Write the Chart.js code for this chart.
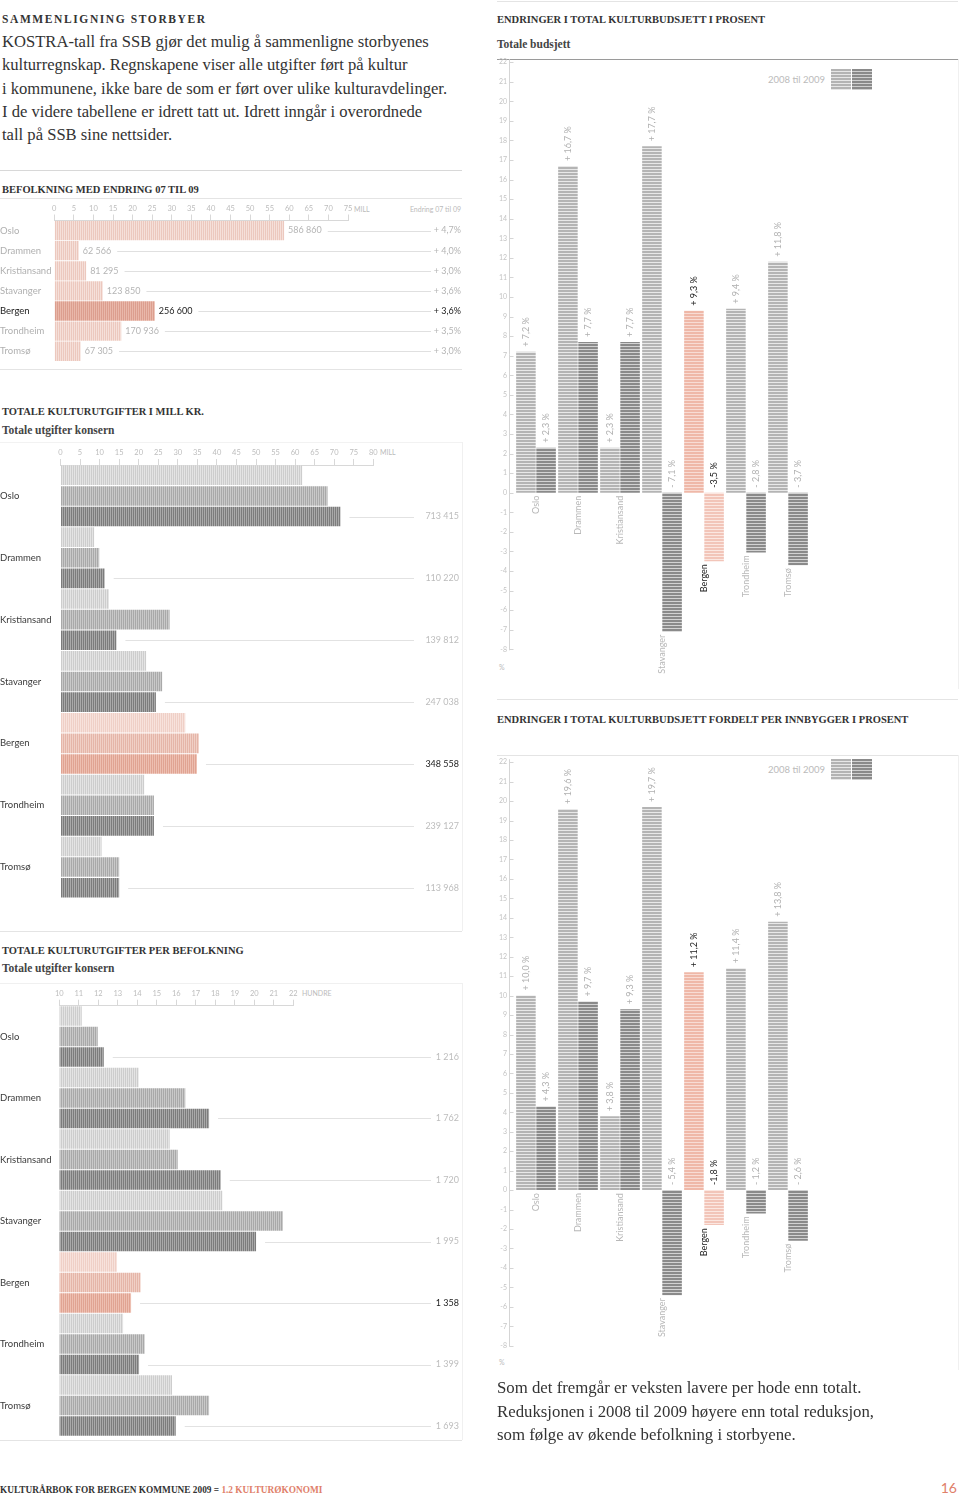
<!DOCTYPE html>
<html lang="no">
<head>
<meta charset="utf-8">
<title>Sammenligning storbyer</title>
<script src="https://cdn.jsdelivr.net/npm/chart.js@4.4.1/dist/chart.umd.min.js"></script>
<style>
body{margin:0;width:960px;height:1499px;position:relative;background:#fff;overflow:hidden;font-family:Lato,sans-serif}
.a{position:absolute;white-space:nowrap}
.h{font-family:"Liberation Serif",serif;font-weight:bold;font-size:10.5px;line-height:12px;color:#333}
.sub{font-family:"Liberation Serif",serif;font-weight:bold;font-size:11.5px;line-height:14px;color:#444}
.body{font-family:"Liberation Serif",serif;font-size:16.6px;line-height:23.3px;color:#333}
.tiny{font-size:7px;line-height:10px;color:#bbb}
.rule{position:absolute;height:1px;background:#e4e4e4}
.vrule{position:absolute;width:1px;background:#f0f0f0}
.sw{position:absolute;width:20px;height:21px}
canvas{position:absolute}
</style>
</head>
<body>

<div class="a h" style="left:2px;top:13px;font-size:11.5px;letter-spacing:1.6px">SAMMENLIGNING STORBYER</div>
<div class="a body" style="left:2px;top:30px">KOSTRA-tall fra SSB gjør det mulig å sammenligne storbyenes<br>kulturregnskap. Regnskapene viser alle utgifter ført på kultur<br>i kommunene, ikke bare de som er ført over ulike kulturavdelinger.<br>I de videre tabellene er idrett tatt ut. Idrett inngår i overordnede<br>tall på SSB sine nettsider.</div>
<div class="rule" style="left:0;top:170px;width:462px;background:#d8d8d8"></div>

<div class="a h" style="left:2px;top:184px">BEFOLKNING MED ENDRING 07 TIL 09</div>
<div class="rule" style="left:0;top:198px;width:462px"></div>
<div class="a tiny" style="left:354px;top:204px">MILL</div>
<div class="a tiny" style="right:499px;top:204px">Endring 07 til 09</div>
<canvas id="c1" width="470" height="170" style="left:0;top:200px"></canvas>
<div class="rule" style="left:0;top:369px;width:462px"></div>

<div class="a h" style="left:2px;top:406px">TOTALE KULTURUTGIFTER I MILL KR.</div>
<div class="a sub" style="left:2px;top:423px">Totale utgifter konsern</div>
<div class="rule" style="left:0;top:442px;width:462px;background:#f2f2f2"></div>
<div class="vrule" style="left:462px;top:442px;height:489px"></div>
<div class="a tiny" style="left:380px;top:447px">MILL</div>
<canvas id="c2" width="470" height="500" style="left:0;top:440px"></canvas>
<div class="rule" style="left:0;top:931px;width:462px"></div>

<div class="a h" style="left:2px;top:945px">TOTALE KULTURUTGIFTER PER BEFOLKNING</div>
<div class="a sub" style="left:2px;top:961px">Totale utgifter konsern</div>
<div class="rule" style="left:0;top:983px;width:462px;background:#f0f0f0"></div>
<div class="vrule" style="left:462px;top:983px;height:457px"></div>
<div class="a tiny" style="left:302px;top:988px">HUNDRE</div>
<canvas id="c3" width="470" height="465" style="left:0;top:980px"></canvas>
<div class="rule" style="left:0;top:1440px;width:462px"></div>

<div class="rule" style="left:497px;top:1px;width:461px"></div>
<div class="a h" style="left:497px;top:14px">ENDRINGER I TOTAL KULTURBUDSJETT I PROSENT</div>
<div class="a sub" style="left:497px;top:37px">Totale budsjett</div>
<div class="rule" style="left:497px;top:59px;width:461px;background:#9a9a9a"></div>
<div class="vrule" style="left:958px;top:59px;height:630px"></div>
<div class="a" style="left:768px;top:74px;font-size:9.5px;color:#bbb">2008 til 2009</div>
<div class="sw" style="left:831px;top:69px;background:repeating-linear-gradient(#b3b3b3 0 2px,#e6e6e6 2px 3px)"></div>
<div class="sw" style="left:852px;top:69px;background:repeating-linear-gradient(#8a8a8a 0 2px,#cfcfcf 2px 3px)"></div>
<div class="a tiny" style="left:499px;top:662px">%</div>
<canvas id="r1" width="470" height="640" style="left:490px;top:50px"></canvas>

<div class="rule" style="left:497px;top:699px;width:461px"></div>
<div class="a h" style="left:497px;top:714px">ENDRINGER I TOTAL KULTURBUDSJETT FORDELT PER INNBYGGER I PROSENT</div>
<div class="rule" style="left:497px;top:755px;width:461px"></div>
<div class="vrule" style="left:958px;top:755px;height:615px"></div>
<div class="a" style="left:768px;top:764px;font-size:9.5px;color:#bbb">2008 til 2009</div>
<div class="sw" style="left:831px;top:759px;background:repeating-linear-gradient(#b3b3b3 0 2px,#e6e6e6 2px 3px)"></div>
<div class="sw" style="left:852px;top:759px;background:repeating-linear-gradient(#8a8a8a 0 2px,#cfcfcf 2px 3px)"></div>
<div class="a tiny" style="left:499px;top:1357px">%</div>
<canvas id="r2" width="470" height="640" style="left:490px;top:750px"></canvas>

<div class="a body" style="left:497px;top:1376px;line-height:23.5px;font-size:16.8px">Som det fremgår er veksten lavere per hode enn totalt.<br>Reduksjonen i 2008 til 2009 høyere enn total reduksjon,<br>som følge av økende befolkning i storbyene.</div>

<div class="a h" style="left:0;top:1484px;font-size:9.3px">KULTURÅRBOK FOR BERGEN KOMMUNE 2009 = <span style="color:#e0806a">1.2 KULTURØKONOMI</span></div>
<div class="a" style="right:3px;top:1479px;font-size:14px;color:#e0806a">16</div>

<script>
// byer og verdier lest av figuren
const byer = ['Oslo', 'Drammen', 'Kristiansand', 'Stavanger', 'Bergen', 'Trondheim', 'Tromsø'];

const befolkning = [586860, 62566, 81295, 123850, 256600, 170936, 67305];
const befEndring = [4.7, 4.0, 3.0, 3.6, 3.6, 3.5, 3.0];

// totale kulturutgifter, i 10 mill kr
const utgift2007 = [61.8, 8.6, 12.4, 21.9, 31.9, 21.4, 10.5];
const utgift2008 = [68.3, 9.9, 27.9, 26.0, 35.4, 23.9, 15.0];
const utgift2009 = [71.6, 11.3, 14.3, 24.4, 34.9, 23.9, 15.0];
const utgiftTekst = [713415, 110220, 139812, 247038, 348558, 239127, 113968];

// utgifter per innbygger, i hundre kr
const perInnb2007 = [11.15, 14.07, 15.66, 18.36, 12.96, 13.27, 15.78];
const perInnb2008 = [11.97, 16.46, 16.07, 21.47, 14.17, 14.38, 17.68];
const perInnb2009 = [12.28, 17.68, 18.28, 20.09, 13.68, 14.09, 15.97];
const perInnbTekst = [1216, 1762, 1720, 1995, 1358, 1399, 1693];

// endringer i prosent
const endr0708 = [7.2, 16.7, 2.3, 17.7, 9.3, 9.4, 11.8];
const endr0809 = [2.3, 7.7, 7.7, -7.1, -3.5, -3.05, -3.7];
const endr0708Tekst = ['+ 7,2 %', '+ 16,7 %', '+ 2,3 %', '+ 17,7 %', '+ 9,3 %', '+ 9,4 %', '+ 11,8 %'];
const endr0809Tekst = ['+ 2,3 %', '+ 7,7 %', '+ 7,7 %', '- 7,1 %', '-3,5 %', '- 2,8 %', '- 3,7 %'];

const innb0708 = [10.0, 19.6, 3.8, 19.7, 11.2, 11.4, 13.8];
const innb0809 = [4.3, 9.7, 9.3, -5.4, -1.8, -1.2, -2.6];
const innb0708Tekst = ['+ 10,0 %', '+ 19,6 %', '+ 3,8 %', '+ 19,7 %', '+ 11,2 %', '+ 11,4 %', '+ 13,8 %'];
const innb0809Tekst = ['+ 4,3 %', '+ 9,7 %', '+ 9,3 %', '- 5,4 %', '-1,8 %', '- 1,2 %', '- 2,6 %'];

const BERGEN = 4;

Chart.defaults.font.family = 'Lato, sans-serif';
Chart.defaults.animation = false;
Chart.defaults.plugins.legend.display = false;
Chart.defaults.plugins.tooltip.enabled = false;

function hatch(base, line, vertical) {
    var c = document.createElement('canvas');
    var g = c.getContext('2d');
    if (vertical) {
        c.width = 2; c.height = 1;
        g.fillStyle = base; g.fillRect(0, 0, 1, 1);
        g.fillStyle = line; g.fillRect(1, 0, 1, 1);
    } else {
        c.width = 1; c.height = 3;
        g.fillStyle = base; g.fillRect(0, 0, 1, 2);
        g.fillStyle = line; g.fillRect(0, 2, 1, 1);
    }
    return g.createPattern(c, 'repeat');
}

function tall(n) {
    return String(n).replace(/\B(?=(\d{3})+(?!\d))/g, ' ');
}

function perBy(normal, bergen) {
    return byer.map(function(b, i) { return i === BERGEN ? bergen : normal; });
}

// ---- befolkning ----
var befPlugin = {
    id: 'befLabels',
    afterDatasetsDraw: function(chart) {
        var ctx = chart.ctx;
        var meta = chart.getDatasetMeta(0);
        ctx.save();
        ctx.font = '9px Lato';
        ctx.textBaseline = 'middle';
        meta.data.forEach(function(bar, i) {
            var col = i === BERGEN ? '#222' : '#b5b5b5';
            var txt = tall(befolkning[i]);
            ctx.fillStyle = col;
            ctx.textAlign = 'left';
            ctx.fillText(txt, bar.x + 4, bar.y);
            var w = ctx.measureText(txt).width;
            ctx.strokeStyle = '#e0e0e0';
            ctx.lineWidth = 1;
            ctx.beginPath();
            ctx.moveTo(bar.x + 10 + w, Math.round(bar.y) + 0.5);
            ctx.lineTo(431, Math.round(bar.y) + 0.5);
            ctx.stroke();
            ctx.textAlign = 'right';
            ctx.fillText('+ ' + befEndring[i].toFixed(1).replace('.', ',') + '%', 461, bar.y);
        });
        ctx.restore();
    }
};

new Chart(document.getElementById('c1'), {
    type: 'bar',
    data: {
        labels: byer,
        datasets: [{
            data: befolkning.map(function(v) { return v / 10000; }),
            backgroundColor: perBy(hatch('#f5e0da', '#ecc8be', true), hatch('#e9b8aa', '#dc9e8e', true)),
            barPercentage: 0.96,
            categoryPercentage: 1
        }]
    },
    options: {
        indexAxis: 'y',
        responsive: false,
        layout: { padding: { left: 0, right: 122, top: 0, bottom: 7.5 } },
        scales: {
            x: {
                position: 'top', min: 0, max: 75,
                ticks: { stepSize: 5, color: '#bdbdbd', font: { size: 7.5 }, padding: 1, autoSkip: false, maxRotation: 0 },
                grid: { drawOnChartArea: false, tickLength: 6, color: '#d8d8d8' },
                border: { color: '#d8d8d8' },
                afterFit: function(s) { s.height = 20.5; }
            },
            y: {
                ticks: { crossAlign: 'far', color: function(c) { return c.index === BERGEN ? '#222' : '#b0b0b0'; }, font: { size: 9.5 } },
                grid: { display: false },
                border: { display: false },
                afterFit: function(s) { s.width = 54.3; }
            }
        }
    },
    plugins: [befPlugin]
});

// ---- grupperte liggende stolper ----
function sumPlugin(tekster, lineEnd) {
    return {
        id: 'sumLabels',
        afterDatasetsDraw: function(chart) {
            var ctx = chart.ctx;
            var meta = chart.getDatasetMeta(2);
            ctx.save();
            ctx.font = '9px Lato';
            ctx.textBaseline = 'middle';
            meta.data.forEach(function(bar, i) {
                var y = Math.round(bar.y) + 0.5;
                ctx.strokeStyle = '#e2e2e2';
                ctx.lineWidth = 1;
                ctx.beginPath();
                ctx.moveTo(bar.x + 9, y);
                ctx.lineTo(lineEnd, y);
                ctx.stroke();
                ctx.fillStyle = i === BERGEN ? '#222' : '#bdbdbd';
                ctx.textAlign = 'right';
                ctx.fillText(tall(tekster[i]), 459, bar.y);
            });
            ctx.restore();
        }
    };
}

function groupColors() {
    return [
        perBy(hatch('#e4e4e4', '#cdcdcd', true), hatch('#f7e2dc', '#efcfc6', true)),
        perBy(hatch('#c9c9c9', '#a9a9a9', true), hatch('#f0d0c6', '#e5b5a8', true)),
        perBy(hatch('#a9a9a9', '#7c7c7c', true), hatch('#edbfb1', '#e0a392', true))
    ];
}

function groupChart(id, sets, xopts, yWidth, xHeight, padding, tekster, lineEnd) {
    var cols = groupColors();
    return new Chart(document.getElementById(id), {
        type: 'bar',
        data: {
            labels: byer,
            datasets: sets.map(function(d, k) {
                return { data: d, backgroundColor: cols[k], barPercentage: 0.95, categoryPercentage: 1 };
            })
        },
        options: {
            indexAxis: 'y',
            responsive: false,
            layout: { padding: padding },
            scales: {
                x: Object.assign({
                    position: 'top',
                    grid: { drawOnChartArea: false, tickLength: 6, color: '#d8d8d8' },
                    border: { color: '#d8d8d8' },
                    afterFit: function(s) { s.height = xHeight; }
                }, xopts),
                y: {
                    ticks: { crossAlign: 'far', color: '#3a3a3a', font: { size: 9.5 } },
                    grid: { display: false },
                    border: { display: false },
                    afterFit: function(s) { s.width = yWidth; }
                }
            }
        },
        plugins: [sumPlugin(tekster, lineEnd)]
    });
}

groupChart('c2', [utgift2007, utgift2008, utgift2009],
    { min: 0, max: 80, ticks: { stepSize: 5, color: '#bdbdbd', font: { size: 7.5 }, padding: 2, autoSkip: false, maxRotation: 0 } },
    60.5, 25, { left: 0, right: 96.7, top: 0, bottom: 42 }, utgiftTekst, 414);

groupChart('c3', [perInnb2007, perInnb2008, perInnb2009].map(function(d) {
        return d.map(function(v) { return [10, v]; });
    }),
    { min: 10, max: 22, ticks: { stepSize: 1, color: '#bdbdbd', font: { size: 7.5 }, padding: 2, autoSkip: false, maxRotation: 0 } },
    59.3, 25.7, { left: 0, right: 176.7, top: 0, bottom: 6.7 }, perInnbTekst, 431);

// ---- endringer, stående stolper ----
function endrPlugin(tekster) {
    return {
        id: 'endrLabels',
        afterDatasetsDraw: function(chart) {
            var ctx = chart.ctx;
            var ys = chart.scales.y;
            var xs = chart.scales.x;
            var y0 = ys.getPixelForValue(0);
            var area = chart.chartArea;
            ctx.save();
            // y-akse
            var ax = Math.round(area.left - 6) + 0.5;
            ctx.strokeStyle = '#d5d5d5';
            ctx.lineWidth = 1;
            ctx.beginPath();
            ctx.moveTo(ax, area.top - 3);
            ctx.lineTo(ax, area.bottom + 1);
            ys.ticks.forEach(function(t) {
                var y = Math.round(ys.getPixelForValue(t.value)) + 0.5;
                ctx.moveTo(ax, y);
                ctx.lineTo(ax + 4, y);
            });
            ctx.stroke();

            ctx.font = '9px Lato';
            ctx.textBaseline = 'middle';
            [0, 1].forEach(function(d) {
                var meta = chart.getDatasetMeta(d);
                var vals = chart.data.datasets[d].data;
                meta.data.forEach(function(bar, i) {
                    ctx.save();
                    ctx.translate(bar.x, vals[i] >= 0 ? bar.y - 5 : y0 - 5);
                    ctx.rotate(-Math.PI / 2);
                    ctx.textAlign = 'left';
                    ctx.fillStyle = i === BERGEN ? '#222' : '#b0b0b0';
                    ctx.fillText(tekster[d][i], 0, 0);
                    ctx.restore();
                });
            });
            var neg = chart.data.datasets[1].data;
            byer.forEach(function(b, i) {
                var yb = ys.getPixelForValue(Math.min(0, neg[i])) + 3;
                ctx.save();
                ctx.translate(xs.getPixelForValue(i), yb);
                ctx.rotate(-Math.PI / 2);
                ctx.textAlign = 'right';
                ctx.fillStyle = i === BERGEN ? '#222' : '#b8b8b8';
                ctx.fillText(b, 0, 0);
                ctx.restore();
            });
            ctx.restore();
        }
    };
}

function endrChart(id, a, b, tekster, padTop, padBottom) {
    return new Chart(document.getElementById(id), {
        type: 'bar',
        data: {
            labels: byer,
            datasets: [
                { data: a, backgroundColor: perBy(hatch('#b4b4b4', '#e8e8e8', false), hatch('#efb8a8', '#f8dcd4', false)), barPercentage: 0.97, categoryPercentage: 0.96 },
                { data: b, backgroundColor: perBy(hatch('#8a8a8a', '#d2d2d2', false), hatch('#f2c5b9', '#fbe7e1', false)), barPercentage: 0.97, categoryPercentage: 0.96 }
            ]
        },
        options: {
            responsive: false,
            layout: { padding: { left: 0, right: 151, top: padTop, bottom: padBottom } },
            scales: {
                x: { display: false },
                y: {
                    min: -8, max: 22,
                    ticks: { stepSize: 1, color: '#c4c4c4', font: { size: 7 }, padding: 8 },
                    grid: { display: false, drawTicks: false },
                    border: { display: false },
                    afterFit: function(s) { s.width = 25; }
                }
            }
        },
        plugins: [endrPlugin(tekster)]
    });
}

endrChart('r1', endr0708, endr0809, [endr0708Tekst, endr0809Tekst], 12, 40.7);
endrChart('r2', innb0708, innb0809, [innb0708Tekst, innb0809Tekst], 9.3, 44.3);
</script>
</body>
</html>
